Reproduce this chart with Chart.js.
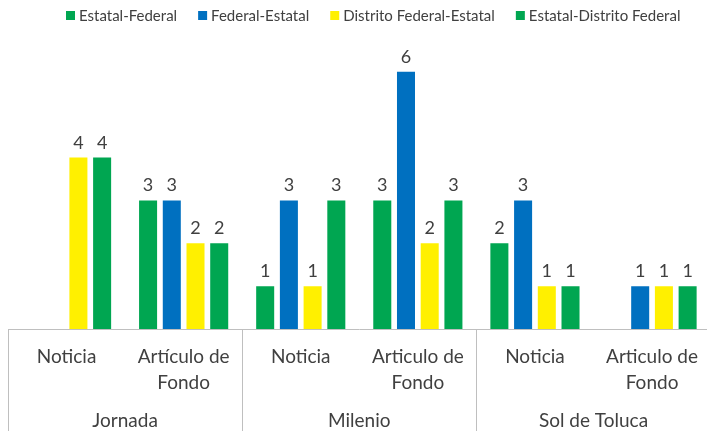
<!DOCTYPE html>
<html>
<head>
<meta charset="utf-8">
<script src="https://cdn.jsdelivr.net/npm/chart.js@4"></script>
<style>
  body { margin: 0; overflow: hidden; background: #fff; }
  #wrap { position: absolute; left: 0; top: 0; width: 713px; height: 431px; }
</style>
</head>
<body>
<div id="wrap"><canvas id="myChart"></canvas></div>
<script>
const categories = ['Noticia', ['Artículo de', 'Fondo'], 'Noticia', ['Articulo de', 'Fondo'], 'Noticia', ['Articulo de', 'Fondo']];
const groups = ['Jornada', 'Milenio', 'Sol de Toluca'];
const seriesNames = ['Estatal-Federal', 'Federal-Estatal', 'Distrito Federal-Estatal', 'Estatal-Distrito Federal'];
const estatalFederal = [0, 3, 1, 3, 2, 0];
const federalEstatal = [0, 3, 3, 6, 3, 1];
const distritoFederalEstatal = [4, 2, 1, 2, 1, 1];
const estatalDistritoFederal = [4, 2, 3, 3, 1, 1];
const colors = ['#00A651', '#0070C0', '#FFF000', '#00A651'];

const textColor = '#404040';
const font = 'Lato';

// etiquetas de valor sobre las barras
const valueLabels = {
    id: 'valueLabels',
    afterDatasetsDraw(chart) {
        const c = chart.ctx;
        c.save();
        c.fillStyle = textColor;
        c.font = '18px ' + font;
        c.textAlign = 'center';
        c.textBaseline = 'alphabetic';
        chart.data.datasets.forEach((ds, i) => {
            chart.getDatasetMeta(i).data.forEach((bar, j) => {
                if (ds.data[j] > 0) c.fillText(ds.data[j], bar.x, bar.y - 9);
            });
        });
        c.restore();
    }
};

// lineas separadoras de los grupos
const separators = {
    id: 'separators',
    afterDraw(chart) {
        const x = chart.scales.x;
        const c = chart.ctx;
        const half = (x.getPixelForValue(1) - x.getPixelForValue(0)) / 2;
        c.save();
        c.strokeStyle = '#BFBFBF';
        c.lineWidth = 1;
        for (let g = 0; g <= groups.length; g++) {
            const px = Math.round(x.getPixelForValue(g * 2) - half) + 0.5;
            c.beginPath();
            c.moveTo(px, chart.chartArea.bottom);
            c.lineTo(px, chart.height);
            c.stroke();
        }
        c.restore();
    }
};

// leyenda
const legendPlugin = {
    id: 'legendPlugin',
    afterDraw(chart) {
        const c = chart.ctx;
        c.save();
        c.font = '15px ' + font;
        c.textBaseline = 'middle';
        let px = 66;
        seriesNames.forEach((name, i) => {
            c.fillStyle = colors[i];
            c.fillRect(px, 11, 9, 9);
            c.fillStyle = textColor;
            c.fillText(name, px + 13, 16);
            px += 13 + c.measureText(name).width + 21;
        });
        c.restore();
    }
};

const ctx = document.getElementById('myChart');
const myChart = new Chart(ctx, {
    type: 'bar',
    data: {
        labels: categories,
        datasets: [
            { label: seriesNames[0], data: estatalFederal, backgroundColor: colors[0] },
            { label: seriesNames[1], data: federalEstatal, backgroundColor: colors[1] },
            { label: seriesNames[2], data: distritoFederalEstatal, backgroundColor: colors[2] },
            { label: seriesNames[3], data: estatalDistritoFederal, backgroundColor: colors[3] }
        ]
    },
    options: {
        responsive: true,
        maintainAspectRatio: false,
        animation: false,
        categoryPercentage: 0.81,
        barPercentage: 0.76,
        layout: {
            padding: { top: 29, left: 8, right: 0, bottom: 0 }
        },
        scales: {
            y: {
                display: false,
                min: 0,
                max: 7
            },
            x: {
                weight: 0,
                grid: { display: false, drawTicks: false },
                border: { display: true, color: '#BFBFBF' },
                ticks: {
                    color: textColor,
                    font: { family: font, size: 19, lineHeight: 1.35 },
                    padding: 15,
                    maxRotation: 0,
                    autoSkip: false
                },
                afterFit(scale) { scale.height = 68; }
            },
            x2: {
                type: 'category',
                labels: groups,
                position: 'bottom',
                weight: 1,
                offset: true,
                grid: { display: false, drawTicks: false },
                border: { display: false },
                ticks: {
                    color: textColor,
                    font: { family: font, size: 19, lineHeight: 1.35 },
                    padding: 11,
                    maxRotation: 0
                },
                afterFit(scale) { scale.height = 34; }
            }
        },
        plugins: {
            legend: { display: false },
            tooltip: { enabled: false }
        }
    },
    plugins: [valueLabels, separators, legendPlugin]
});
</script>
</body>
</html>
